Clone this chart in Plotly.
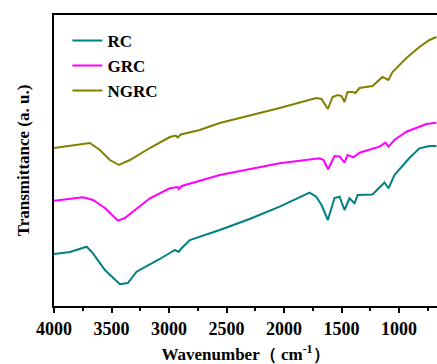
import plotly.graph_objects as go

# Wavenumber (cm-1) and transmittance (a.u., offset curves)
rc_w = [4000, 3861, 3716, 3661, 3557, 3427, 3358, 3282, 3080, 2950, 2915, 2889, 2819,
        2559, 2299, 2038, 1778, 1720, 1674, 1619, 1561, 1517, 1474, 1431, 1387, 1359,
        1231, 1127, 1092, 1040, 910, 823, 736, 675]
rc_t = [52, 54, 59.3, 52.7, 36, 21.7, 23, 34.3, 47, 56, 54.3, 58, 66,
        76, 87, 99.3, 113.3, 109.3, 101, 86, 108, 109.3, 96, 107.7, 102.7, 111,
        111.5, 123.5, 117.7, 131, 148, 157.7, 160, 160]

grc_w = [4000, 3861, 3748, 3661, 3557, 3444, 3384, 3167, 2993, 2924, 2915, 2889,
         2559, 2038, 1691, 1656, 1617, 1561, 1517, 1474, 1448, 1396, 1344, 1170,
         1118, 1092, 1040, 936, 849, 762, 675]
grc_t = [105.3, 107, 108.7, 106, 98, 85.3, 88, 107.7, 117.7, 119, 117, 120,
         131, 142.7, 147.7, 146, 136.7, 150, 149.5, 143.3, 151, 148.7, 153.3, 159.3,
         163.3, 159.3, 166, 174.3, 178, 182, 183.3]

ngrc_w = [4000, 3861, 3688, 3601, 3514, 3436, 3340, 3167, 2993, 2941, 2924, 2898,
          2733, 2559, 2038, 1720, 1674, 1619, 1578, 1535, 1500, 1474, 1448, 1405,
          1379, 1344, 1231, 1144, 1092, 1057, 936, 823, 736, 675]
ngrc_t = [158, 160, 163, 156, 146, 141, 146, 158, 169, 170.5, 168.5, 171.5,
          176, 183, 198, 208, 207, 197, 209, 211, 210, 204, 214, 214,
          213, 218, 220, 229, 226, 234, 248, 259, 266, 269]

names = ["RC", "GRC", "NGRC"]
colors = ["#008080", "#FF00FF", "#808000"]
xs = [rc_w, grc_w, ngrc_w]
ys = [rc_t, grc_t, ngrc_t]

FONT = "Liberation Serif, Times New Roman, serif"

fig = go.Figure()
for n, c, x, y in zip(names, colors, xs, ys):
    fig.add_trace(go.Scatter(x=x, y=y, mode="lines", name=n,
                             line=dict(color=c, width=2)))

fig.update_layout(
    width=437, height=364,
    margin=dict(l=54, r=0, t=15, b=58),
    paper_bgcolor="white", plot_bgcolor="white",
    font=dict(family=FONT, size=17, color="black"),
    legend=dict(x=0.035, y=0.973, xanchor="left", yanchor="top",
                bgcolor="rgba(0,0,0,0)", tracegroupgap=0,
                font=dict(family=FONT, size=17, color="black", weight="bold")),
    showlegend=True,
)
fig.update_xaxes(
    range=[4000, 670], showgrid=False, zeroline=False, automargin=False,
    showline=True, linecolor="black", linewidth=2, mirror=True,
    ticks="outside", ticklen=5, tickwidth=1.5, tickcolor="black",
    tickvals=[4000, 3500, 3000, 2500, 2000, 1500, 1000],
    tickfont=dict(family=FONT, size=18, weight="bold"),
    minor=dict(ticks="outside", ticklen=3, tickwidth=1.5, tickcolor="black", dtick=250),
    title=dict(text="Wavenumber（ cm<sup>-1</sup>）", standoff=17,
               font=dict(family=FONT, size=17, weight="bold")),
)
fig.update_yaxes(
    range=[0, 291], showgrid=False, zeroline=False, automargin=False,
    showline=True, linecolor="black", linewidth=2, mirror=False,
    showticklabels=False, ticks="",
    title=dict(text="Transmittance (a. u.)", standoff=18,
               font=dict(family=FONT, size=17, weight="bold")),
)

fig.write_html("out.html")
